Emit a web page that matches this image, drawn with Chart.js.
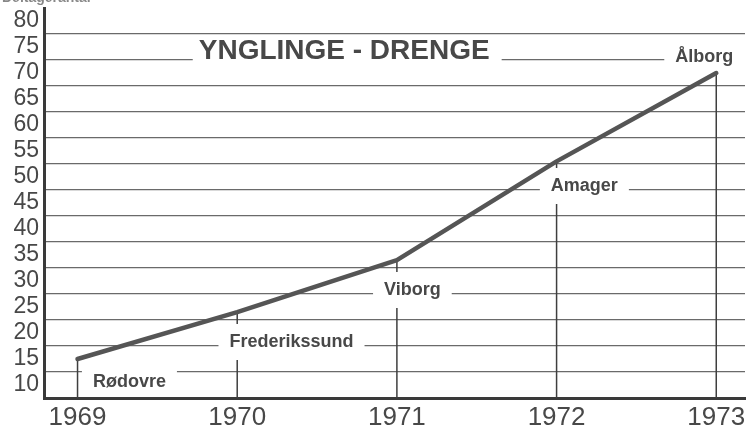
<!DOCTYPE html>
<html><head><meta charset="utf-8">
<script src="https://cdn.jsdelivr.net/npm/chart.js@4"></script>
<style>html,body{margin:0;padding:0;background:#fff}#wrap{width:750px;height:429px}</style>
</head><body><div id="wrap"><canvas id="c" width="750" height="429"></canvas></div>
<script>
// ---- data ----
const years = [1969, 1970, 1971, 1972, 1973];
const participants = [15, 24, 34, 53, 70];
const placeNames = ['Rødovre', 'Frederikssund', 'Viborg', 'Amager', 'Ålborg'];
const yTickValues = [10, 15, 20, 25, 30, 35, 40, 45, 50, 55, 60, 65, 70, 75, 80];
const titleText = 'YNGLINGE - DRENGE';
const yAxisTitle = 'Deltagerantal';

// ---- label placement (data units) ----
const placeAnchors = [
  {x: 1969.325, y: 12.5, dy: 15},
  {x: 1970.34,  y: 17.5, dy: 1},
  {x: 1971.097, y: 27.5, dy: 1},
  {x: 1972.174, y: 47.5, dy: 1},
  {x: 1972.925, y: 72.5, dy: 2, toEdge: true}
];
const titleAnchor = {x: 1970.67, y: 72.5, dy: -1};

const FONT = '"Liberation Sans", Arial, Helvetica, sans-serif';
const INK = '#484848';

const overlay = {
  id: 'overlay',
  beforeDatasetsDraw(chart) {
    const {ctx, scales: {x, y}, chartArea} = chart;
    ctx.save();
    // cut-off axis caption at very top
    ctx.fillStyle = '#888';
    ctx.font = 'bold 14px ' + FONT;
    ctx.textAlign = 'left';
    ctx.textBaseline = 'alphabetic';
    ctx.fillText(yAxisTitle, 2, 2);

    // title
    ctx.font = 'bold 28px ' + FONT;
    const tw = ctx.measureText(titleText).width;
    const tcx = x.getPixelForValue(titleAnchor.x);
    const tgy = y.getPixelForValue(titleAnchor.y);
    const tby = tgy + titleAnchor.dy;
    ctx.fillStyle = '#fff';
    ctx.fillRect(tcx - tw / 2 - 6, tby - 24, tw + 18, 30);
    ctx.fillStyle = INK;
    ctx.textAlign = 'center';
    ctx.fillText(titleText, tcx, tby);

    // place labels
    ctx.font = 'bold 18px ' + FONT;
    const boxes = placeAnchors.map((a, i) => {
      const w = ctx.measureText(placeNames[i]).width;
      const cx = x.getPixelForValue(a.x);
      const gy = y.getPixelForValue(a.y);
      const by = gy + a.dy;
      const top = by - 14, bottom = by + 4;
      const left = cx - w / 2, right = cx + w / 2;
      return {cx, gy, by, top, bottom, left, right, toEdge: a.toEdge, name: placeNames[i]};
    });
    ctx.fillStyle = '#fff';
    boxes.forEach(b => {
      const l = b.left - 11;
      const r = b.toEdge ? chartArea.right + 2 : b.right + 11;
      const t = Math.min(b.top, b.gy) - 4;
      const bt = Math.max(b.bottom, b.gy) + 3;
      ctx.fillRect(l, t, r - l, bt - t);
    });

    // drop lines with breaks around labels
    ctx.strokeStyle = '#3f3f3f';
    ctx.lineWidth = 1.5;
    years.forEach((yr, i) => {
      const px = x.getPixelForValue(yr);
      const py = y.getPixelForValue(participants[i]);
      let segs = [[py, chartArea.bottom]];
      boxes.forEach(b => {
        if (px >= b.left - 2 && px <= b.right + 2) {
          const s = b.top - 9, e = b.bottom + 9;
          const out = [];
          segs.forEach(([a, c]) => {
            if (e <= a || s >= c) { out.push([a, c]); return; }
            if (s > a) out.push([a, s]);
            if (e < c) out.push([e, c]);
          });
          segs = out;
        }
      });
      segs.forEach(([a, c]) => {
        ctx.beginPath(); ctx.moveTo(px, a); ctx.lineTo(px, c); ctx.stroke();
      });
    });

    // label text
    ctx.fillStyle = INK;
    ctx.textAlign = 'center';
    ctx.textBaseline = 'alphabetic';
    boxes.forEach(b => ctx.fillText(b.name, b.cx, b.by));
    ctx.restore();
  }
};

new Chart(document.getElementById('c'), {
  type: 'line',
  data: {
    datasets: [{
      data: years.map((yr, i) => ({x: yr, y: participants[i]})),
      borderColor: '#555',
      borderWidth: 4.5,
      pointRadius: 0,
      tension: 0,
      borderCapStyle: 'round',
      borderJoinStyle: 'round'
    }]
  },
  options: {
    responsive: false,
    animation: false,
    devicePixelRatio: 1,
    layout: {padding: {top: 8, right: 5, left: 0, bottom: 0}},
    plugins: {legend: {display: false}, tooltip: {enabled: false}, title: {display: false}},
    scales: {
      x: {
        type: 'linear',
        min: 1968.79,
        max: 1973.18,
        afterBuildTicks: s => { s.ticks = years.map(v => ({value: v})); },
        afterFit: s => { s.height = 31; s.paddingLeft = 0; s.paddingRight = 0; },
        grid: {display: false, drawTicks: false},
        border: {display: true, width: 3, color: '#3a3a3a'},
        ticks: {
          autoSkip: false, maxRotation: 0, padding: 4,
          color: INK,
          font: {family: FONT, size: 26},
          callback: v => String(v)
        }
      },
      y: {
        type: 'linear',
        min: 7.5,
        max: 82.5,
        afterBuildTicks: s => {
          const t = [];
          for (let v = 7.5; v <= 82.5; v += 2.5) t.push({value: v});
          s.ticks = t;
        },
        afterFit: s => { s.width = 44; s.paddingTop = 0; s.paddingBottom = 0; },
        grid: {
          drawTicks: false,
          lineWidth: 1.3,
          color: c => {
            const v = c.tick ? c.tick.value : 0;
            return (Math.abs(v % 5 - 2.5) < 1e-6 && v > 10 && v < 80) ? '#6a6a6a' : 'rgba(0,0,0,0)';
          }
        },
        border: {display: true, width: 3, color: '#3a3a3a'},
        ticks: {
          autoSkip: false, padding: 5,
          color: INK,
          font: {family: FONT, size: 23},
          callback: v => (yTickValues.includes(v) ? String(v) : '')
        }
      }
    }
  },
  plugins: [overlay]
});
</script>
</body></html>
